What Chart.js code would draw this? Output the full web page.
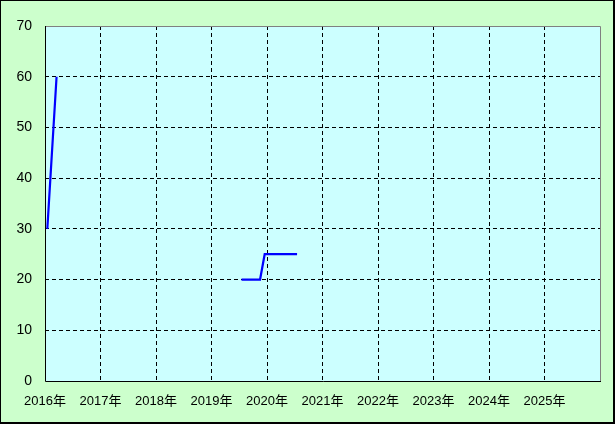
<!DOCTYPE html>
<html><head><meta charset="utf-8">
<script src="https://cdn.jsdelivr.net/npm/chart.js@4/dist/chart.umd.min.js"></script>
<style>
html,body{margin:0;padding:0;background:#ccffcc;}
#wrap{position:relative;width:615px;height:424px;}
canvas{display:block;}
</style></head>
<body><div id="wrap"><canvas id="c" width="615" height="424"></canvas></div>
<script>
const months = ['2016-01','2016-02','2016-03','2016-04',
  '2019-07','2019-08','2019-09','2019-10','2019-11','2019-12',
  '2020-01','2020-02','2020-03','2020-04','2020-05','2020-06','2020-07'];
const values = [30,45,60,null,
  20,20,20,20,20,25,
  25,25,25,25,25,25,25];
const yearTicks = [2016,2017,2018,2019,2020,2021,2022,2023,2024,2025];
const yTicks = [0,10,20,30,40,50,60,70];

const pts = months.map((m,i)=>{
  const [y,mo] = m.split('-').map(Number);
  return {x: y + (mo-0.5)/12, y: values[i]};
});

const frame = {
  id:'frame',
  beforeDraw(chart){
    const {ctx, chartArea:a, width, height} = chart;
    ctx.save();
    ctx.fillStyle='#ccffcc';
    ctx.fillRect(0,0,width,height);
    ctx.fillStyle='#ccffff';
    ctx.fillRect(a.left,a.top,a.right-a.left,a.bottom-a.top);
    ctx.restore();
  },
  beforeDatasetsDraw(chart){
    const {ctx, chartArea:a} = chart;
    ctx.save();
    ctx.lineWidth=1;
    ctx.strokeStyle='#808080';
    ctx.beginPath();
    ctx.moveTo(a.left, a.top+0.5); ctx.lineTo(a.right+0.5, a.top+0.5);
    ctx.lineTo(a.right+0.5, a.bottom);
    ctx.stroke();
    ctx.strokeStyle='#000';
    ctx.beginPath();
    ctx.moveTo(a.left+0.5, a.top); ctx.lineTo(a.left+0.5, a.bottom+0.5);
    ctx.lineTo(a.right+1, a.bottom+0.5);
    ctx.stroke();
    ctx.restore();
  },
  afterDraw(chart){
    const {ctx, width, height} = chart;
    ctx.save();
    ctx.strokeStyle='#000';
    ctx.lineWidth=1;
    ctx.strokeRect(0.5,0.5,width-1,height-1);
    ctx.fillStyle='#000';
    ctx.fillRect(width-2,0,2,height);
    ctx.fillRect(0,height-2,width,2);
    ctx.restore();
  }
};

new Chart(document.getElementById('c'),{
  type:'line',
  data:{datasets:[{data:pts, borderColor:'#0000ff', borderWidth:2.2, pointRadius:0,
    tension:0, spanGaps:false, fill:false}]},
  options:{
    responsive:false, animation:false,
    layout:{padding:{top:26,right:15,left:0,bottom:0}},
    plugins:{legend:{display:false},tooltip:{enabled:false}},
    scales:{
      x:{type:'linear', min:2016, max:2026,
        afterBuildTicks(s){ s.ticks = yearTicks.concat([2026]).map(v=>({value:v})); },
        afterFit(s){ s.height = 43; },
        border:{display:false, dash:[4,3]},
        grid:{drawTicks:false, color:(c)=> (c.tick && (c.tick.value===2016||c.tick.value===2026))?'rgba(0,0,0,0)':'#000',
          lineWidth:1},
        ticks:{padding:13, maxRotation:0, autoSkip:false, color:'#000',
          font:{family:"'Liberation Sans', 'Noto Sans CJK JP', sans-serif", size:13},
          callback:(v)=> yearTicks.includes(v) ? v+'年' : ''}
      },
      y:{min:0, max:70,
        afterBuildTicks(s){ s.ticks = yTicks.map(v=>({value:v})); },
        afterFit(s){ s.width = 45; },
        border:{display:false, dash:[4,3]},
        grid:{drawTicks:false, color:(c)=> (c.tick && (c.tick.value===0||c.tick.value===70))?'rgba(0,0,0,0)':'#000', lineWidth:1},
        ticks:{padding:13, color:'#000',
          font:{family:"'Liberation Sans', sans-serif", size:14}}
      }
    }
  },
  plugins:[frame]
});
</script></body></html>
